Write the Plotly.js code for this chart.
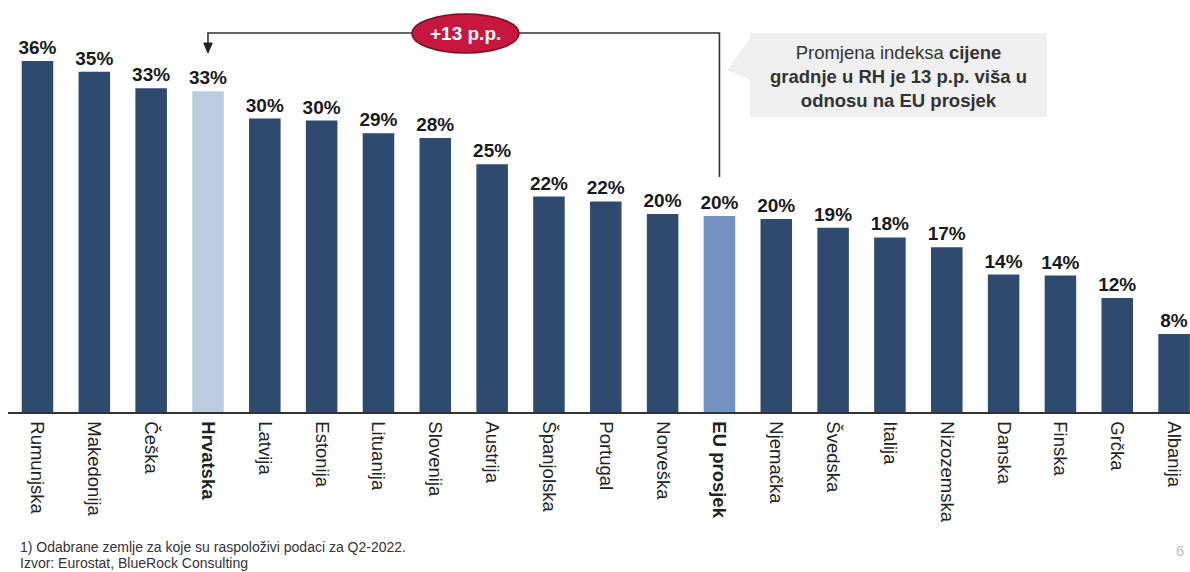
<!DOCTYPE html>
<html>
<head>
<meta charset="utf-8">
<script src="https://cdn.plot.ly/plotly-3.0.1.min.js"></script>
<style>html,body{margin:0;padding:0;background:#fff;}#chart{width:1190px;height:572px;}</style>
</head>
<body>
<div id="chart"></div>
<script>
// ---- data ----
const categories = ["Rumunjska","Makedonija","Češka","Hrvatska","Latvija","Estonija","Lituanija","Slovenija","Austrija","Španjolska","Portugal","Norveška","EU prosjek","Njemačka","Švedska","Italija","Nizozemska","Danska","Finska","Grčka","Albanija"];
const values = [36.0, 34.9, 33.2, 32.9, 30.1, 29.9, 28.6, 28.1, 25.4, 22.1, 21.6, 20.3, 20.1, 19.8, 18.9, 17.9, 16.9, 14.1, 14.0, 11.7, 8.0];
const boldCategories = ["Hrvatska", "EU prosjek"];
const highlightColors = {"Hrvatska": "#BDCBE0", "EU prosjek": "#7392C2"};
const baseColor = "#2F4A6F";

// ---- layout helpers (pixel -> axis units) ----
const W = 1190, H = 572, L = 8, B = 160;
const xMin = -0.519, xMax = 20.28;
const yMax = 42.26;
const pxPerX = (W - L) / (xMax - xMin);
const pxPerY = (H - B) / yMax;
const X = px => xMin + (px - L) / pxPerX;
const Y = py => (H - B - py) / pxPerY;
const PX = px => (px - L) / (W - L);
const PY = py => (H - B - py) / (H - B);

const iHr = categories.indexOf("Hrvatska");
const iEU = categories.indexOf("EU prosjek");

const trace = {
  type: "bar",
  x: categories,
  y: values,
  marker: {color: categories.map(c => highlightColors[c] || baseColor)},
  width: 0.555,
  texttemplate: "%{y:.0f}%",
  textposition: "outside",
  constraintext: "none",
  cliponaxis: false,
  textfont: {family: "Liberation Sans, Arial, sans-serif", size: 19, color: "#1a1a1a", weight: "bold"},
  hoverinfo: "skip"
};

const shapes = [
  // callout box
  {type: "rect", xref: "x", yref: "y", x0: X(750), x1: X(1047), y0: Y(117), y1: Y(33), fillcolor: "#EFEFEF", line: {width: 0}, layer: "below"},
  {type: "path", xref: "x", yref: "y", path: `M ${X(751)},${Y(37)} L ${X(727)},${Y(70)} L ${X(751)},${Y(80)} Z`, fillcolor: "#EFEFEF", line: {width: 0}, layer: "below"},
  // connector
  {type: "path", xref: "x", yref: "y", path: `M ${iHr},${Y(44)} L ${iHr},${Y(33)} L ${iEU},${Y(33)} L ${iEU},${Y(177)}`, line: {color: "#333", width: 1.6}},
  {type: "path", xref: "x", yref: "y", path: `M ${iHr - 0.075},${Y(43)} L ${iHr + 0.075},${Y(43)} L ${iHr},${Y(53)} Z`, fillcolor: "#222", line: {color: "#222", width: 1}},
  // red ellipse
  {type: "circle", xref: "x", yref: "y", x0: X(412), x1: X(519), y0: Y(53), y1: Y(14), fillcolor: "#C8173F", line: {color: "#7A1025", width: 1.5}}
];

const annotations = [
  {xref: "x", yref: "y", x: X(465), y: Y(33), text: "<b>+13 p.p.</b>", showarrow: false,
   font: {family: "Liberation Sans, Arial, sans-serif", size: 19, color: "#ffffff"}},
  {xref: "x", yref: "y", x: X(898), y: Y(76), showarrow: false, align: "center",
   text: "Promjena indeksa <b>cijene</b><br><b>gradnje u RH je 13 p.p. viša u</b><br><b>odnosu na EU prosjek</b>",
   font: {family: "Liberation Sans, Arial, sans-serif", size: 18.5, color: "#333333"}},
  {xref: "paper", yref: "paper", x: PX(18), y: PY(547), xanchor: "left", yanchor: "middle", showarrow: false,
   text: "1) Odabrane zemlje za koje su raspoloživi podaci za Q2-2022.",
   font: {family: "Liberation Sans, Arial, sans-serif", size: 14, color: "#333333"}},
  {xref: "paper", yref: "paper", x: PX(18), y: PY(563), xanchor: "left", yanchor: "middle", showarrow: false,
   text: "Izvor: Eurostat, BlueRock Consulting",
   font: {family: "Liberation Sans, Arial, sans-serif", size: 14, color: "#333333"}},
  {xref: "paper", yref: "paper", x: PX(1180), y: PY(550), xanchor: "center", yanchor: "middle", showarrow: false,
   text: "6", font: {family: "Liberation Sans, Arial, sans-serif", size: 15, color: "#BBBBBB"}}
];

const layout = {
  width: W, height: H,
  margin: {l: L, r: 0, t: 0, b: B, pad: 0},
  paper_bgcolor: "#ffffff", plot_bgcolor: "#ffffff",
  showlegend: false,
  xaxis: {
    type: "category",
    range: [xMin, xMax],
    tickmode: "array",
    tickvals: categories,
    ticktext: categories.map(c => boldCategories.includes(c) ? "<b>" + c + "</b>" : c),
    tickangle: 90,
    tickfont: {family: "Liberation Sans, Arial, sans-serif", size: 18.5, color: "#222222"},
    ticks: "",
    ticklabelstandoff: 4,
    showline: true, linecolor: "#333333", linewidth: 1.6,
    showgrid: false, zeroline: false, fixedrange: true
  },
  yaxis: {
    range: [0, yMax],
    visible: false,
    showgrid: false, zeroline: false, fixedrange: true
  },
  shapes: shapes,
  annotations: annotations,
  font: {family: "Liberation Sans, Arial, sans-serif"}
};

Plotly.newPlot("chart", [trace], layout, {displayModeBar: false, staticPlot: true});
</script>
</body>
</html>
